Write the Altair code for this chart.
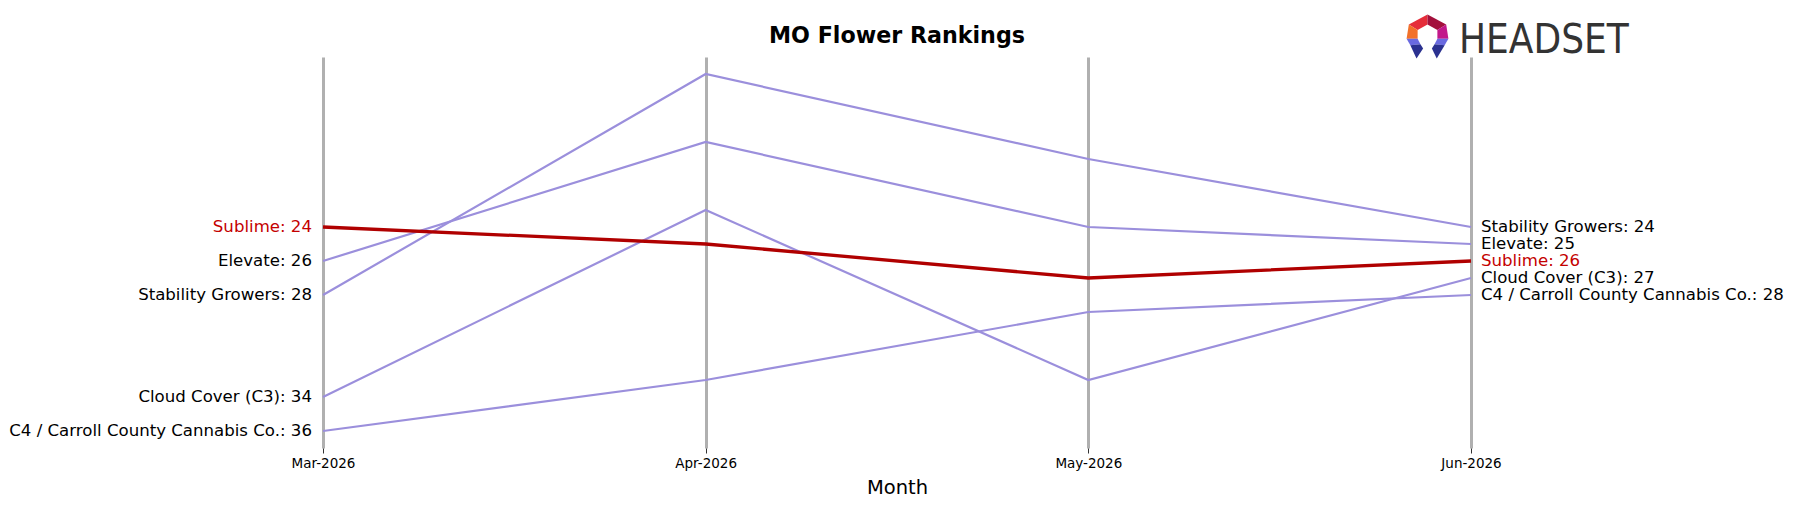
import altair as alt
import pandas as pd

# ---- data ----
months = ["Mar-2026", "Apr-2026", "May-2026", "Jun-2026"]
brands = ["Sublime", "Elevate", "Stability Growers", "Cloud Cover (C3)",
          "C4 / Carroll County Cannabis Co."]
sublime = [24, 25, 27, 26]
elevate = [26, 19, 24, 25]
stability_growers = [28, 15, 20, 24]
cloud_cover = [34, 23, 33, 27]
c4_carroll = [36, 33, 29, 28]
highlight = "Sublime"
title_text = "MO Flower Rankings"

ranks = [sublime, elevate, stability_growers, cloud_cover, c4_carroll]
rows = []
for b, series in zip(brands, ranks):
    for m, v in zip(months, series):
        rows.append({"brand": b, "month": m, "rank": v, "label": f"{b}: {v}"})
df = pd.DataFrame(rows)

# ---- styling ----
FONT = "DejaVu Sans"
PURPLE = "#9b8fdc"
RED_LINE = "#b00000"
RED_TEXT = "#c40000"
W, H = 1148, 391

x_enc = alt.X(
    "month:O", sort=months,
    scale=alt.Scale(type="point", padding=0),
    axis=alt.Axis(
        title="Month", labelAngle=0, domain=False,
        grid=True, gridColor="#b0b0b0", gridWidth=3,
        ticks=True, tickColor="#333333", tickSize=5, tickWidth=1,
        labelFont=FONT, labelFontSize=13.5, labelColor="black", labelPadding=3,
        titleFont=FONT, titleFontSize=19.5, titleFontWeight="normal",
        titleColor="black", titlePadding=9,
    ),
)
y_enc = alt.Y("rank:Q", scale=alt.Scale(domain=[14, 37], reverse=True, nice=False, zero=False),
              axis=None)

base = alt.Chart(df)

others = base.transform_filter(alt.datum.brand != highlight).mark_line(
    color=PURPLE, strokeWidth=2.2
).encode(x=x_enc, y=y_enc, detail="brand:N")

hl = base.transform_filter(alt.datum.brand == highlight).mark_line(
    color=RED_LINE, strokeWidth=3.3
).encode(x=x_enc, y=y_enc)

label_color = alt.condition(alt.datum.brand == highlight, alt.value(RED_TEXT), alt.value("black"))

left_labels = base.transform_filter(alt.datum.month == months[0]).mark_text(
    align="right", baseline="middle", dx=-11, font=FONT, fontSize=16.6
).encode(x=x_enc, y=y_enc, text="label:N", color=label_color)

right_labels = base.transform_filter(alt.datum.month == months[-1]).mark_text(
    align="left", baseline="middle", dx=10, font=FONT, fontSize=16.6
).encode(x=x_enc, y=y_enc, text="label:N", color=label_color)

one = alt.Data(values=[{"k": 1}])

title = alt.Chart(one).mark_text(
    text=title_text, font=FONT, fontSize=22.2, fontWeight="bold",
    align="center", baseline="alphabetic", color="black"
).encode(x=alt.value(W / 2), y=alt.value(-14))

logo_text = alt.Chart(one).mark_text(
    text="HEADSET", font="Liberation Sans Narrow, DejaVu Sans Condensed, sans-serif",
    fontSize=40, align="left", baseline="alphabetic", color="#333333"
).encode(x=alt.value(1136), y=alt.value(-4))

icon_pieces = pd.DataFrame({
    "path": [
        "M -0.85 -0.55 L 0 -1 L 0 -0.55 L -0.45 -0.3 Z",
        "M 0 -1 L 0.85 -0.55 L 0.45 -0.3 L 0 -0.55 Z",
        "M -0.85 -0.55 L -0.45 -0.3 L -0.45 0.1 L -0.95 0.1 Z",
        "M 0.85 -0.55 L 0.45 -0.3 L 0.45 0.1 L 0.95 0.1 Z",
        "M -0.95 0.1 L -0.45 0.1 L -0.32 0.35 L -0.78 0.4 Z",
        "M 0.95 0.1 L 0.45 0.1 L 0.32 0.35 L 0.78 0.4 Z",
        "M -0.78 0.4 L -0.32 0.35 L -0.2 0.55 L -0.5 1 Z",
        "M 0.78 0.4 L 0.32 0.35 L 0.2 0.55 L 0.42 1 Z",
    ],
    "fill": ["#e52d3a", "#a3103c", "#f2712a", "#c2188a",
             "#6a6ae0", "#6a6ae0", "#2b3190", "#2b3190"],
})
icon = alt.Chart(icon_pieces).mark_point(filled=True, opacity=1, size=1936, strokeWidth=0).encode(
    x=alt.value(1104.5), y=alt.value(-20.5),
    shape=alt.Shape("path:N", scale=None, legend=None),
    color=alt.Color("fill:N", scale=None, legend=None),
)

chart = alt.layer(others, hl, left_labels, right_labels, title, logo_text, icon).properties(
    width=W, height=H,
    autosize=alt.AutoSizeParams(type="none"),
    padding={"left": 323, "top": 57, "right": 322, "bottom": 59},
    background="white",
).configure_view(stroke=None)

chart.save("out.html", embed_options={"renderer": "svg", "actions": False})
